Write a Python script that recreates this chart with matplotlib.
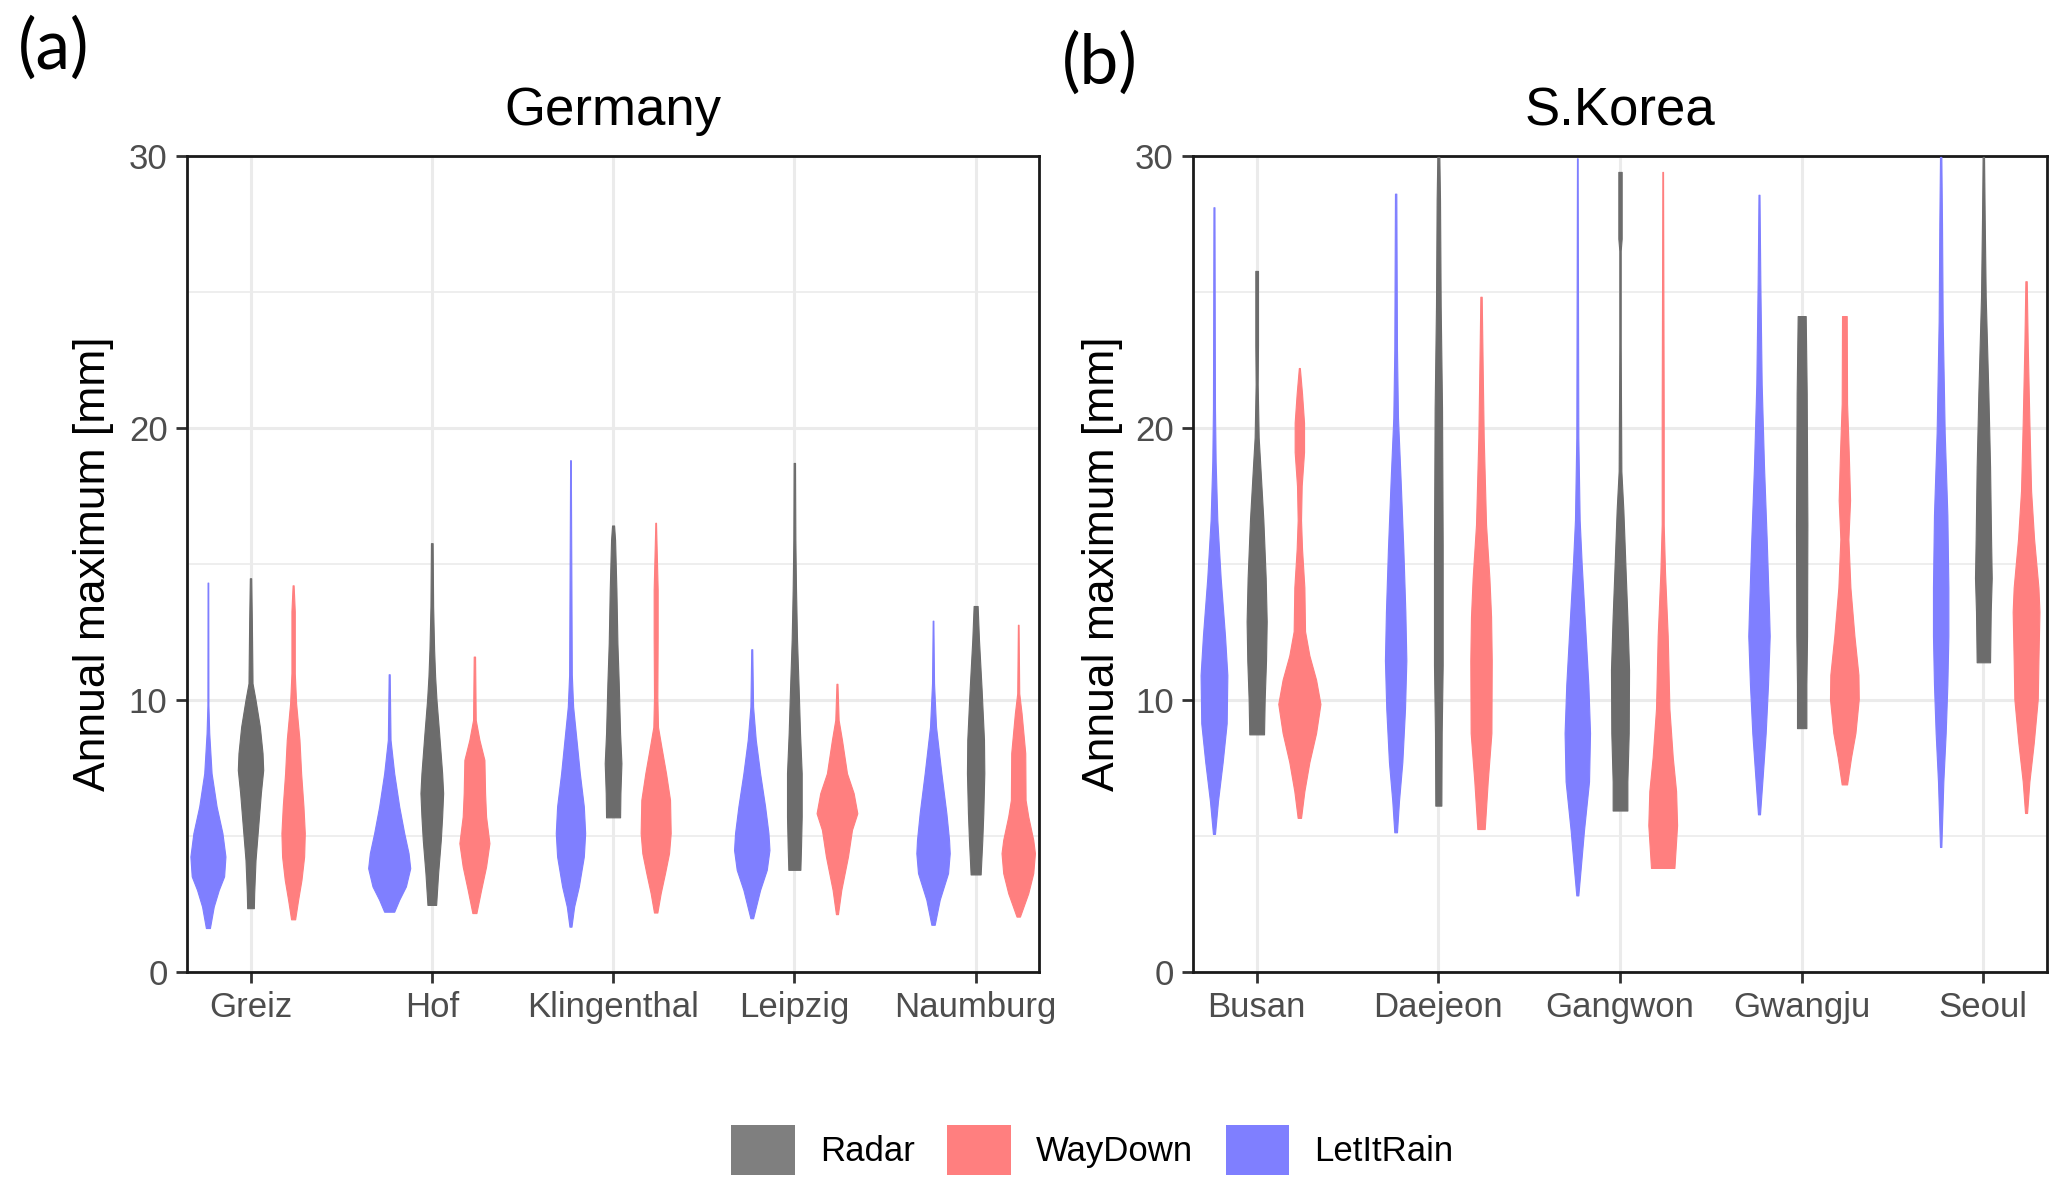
import numpy as np
import matplotlib
matplotlib.use("Agg")
import matplotlib.pyplot as plt
from matplotlib.patches import Patch

plt.rcParams['font.family'] = ['Liberation Sans', 'DejaVu Sans']

# stations per panel
ger_stations = ["Greiz", "Hof", "Klingenthal", "Leipzig", "Naumburg"]
kor_stations = ["Busan", "Daejeon", "Gangwon", "Gwangju", "Seoul"]

# violin profiles: annual maximum [mm] levels and relative density (width) at each level
# --- Germany ---
ger_rain_y = [[1.6, 2.39, 3.0, 3.5, 4.23, 5.09, 6.07, 7.29, 8.76, 9.8, 14.3],
              [2.2, 2.64, 3.13, 3.8, 4.35, 5.09, 6.07, 7.29, 8.52, 10.93],
              [1.65, 2.39, 3.13, 4.23, 5.09, 6.07, 7.29, 8.52, 9.74, 10.91, 18.8],
              [1.96, 3.0, 3.74, 4.47, 5.09, 6.07, 7.29, 8.52, 9.74, 11.85],
              [1.72, 2.64, 3.62, 4.35, 4.84, 5.82, 7.29, 9.0, 10.6, 12.9]]
ger_rain_d = [[12, 35, 65, 97, 105, 87, 52, 22, 8, 3, 2],
              [30, 60, 100, 126, 116, 90, 60, 30, 8, 3],
              [6, 22, 50, 80, 88, 80, 56, 36, 16, 8, 2],
              [8, 50, 90, 106, 100, 80, 50, 24, 8, 3],
              [10, 40, 90, 100, 96, 80, 50, 18, 6, 2]]

ger_radar_y = [[2.33, 2.88, 4.1, 5.33, 6.56, 7.41, 8.03, 9.0, 9.99, 10.6, 12.87, 14.46],
               [2.45, 3.62, 4.84, 5.7, 6.56, 7.29, 8.76, 10.0, 10.85, 11.83, 13.42, 15.75],
               [5.67, 6.56, 7.66, 8.76, 10.6, 12.07, 14.03, 15.87, 16.4],
               [3.74, 4.6, 5.7, 7.29, 8.76, 10.36, 12.2, 14.03, 15.87, 18.7],
               [3.57, 4.84, 5.82, 7.29, 8.52, 10.36, 12.2, 13.44]]
ger_radar_d = [[20, 22, 30, 46, 62, 76, 72, 56, 30, 12, 8, 4],
               [26, 38, 54, 62, 68, 62, 44, 28, 20, 14, 8, 5],
               [42, 44, 50, 42, 34, 26, 20, 12, 6],
               [36, 40, 44, 44, 34, 26, 16, 10, 6, 4],
               [30, 40, 46, 52, 50, 36, 20, 12]]

ger_down_y = [[1.92, 2.64, 3.37, 4.23, 5.09, 6.07, 7.29, 8.52, 9.86, 10.97, 13.24, 14.2],
              [2.15, 3.0, 3.86, 4.72, 5.7, 6.56, 7.78, 8.52, 9.25, 11.58],
              [2.17, 2.88, 3.62, 4.35, 5.09, 6.31, 7.29, 8.27, 8.99, 10.1, 12.32, 14.03, 16.5],
              [2.11, 3.0, 4.23, 5.21, 5.82, 6.56, 7.29, 8.52, 9.25, 10.58],
              [2.02, 2.88, 3.62, 4.35, 4.84, 5.7, 6.31, 8.03, 9.5, 10.23, 12.75]]
ger_down_d = [[12, 30, 50, 66, 70, 62, 48, 38, 18, 10, 10, 3],
              [12, 40, 70, 90, 70, 64, 60, 30, 8, 4],
              [10, 30, 56, 80, 90, 86, 62, 34, 14, 10, 12, 12, 2],
              [6, 26, 66, 90, 122, 100, 60, 30, 10, 3],
              [10, 60, 90, 100, 90, 60, 44, 42, 20, 6, 2]]

# --- S.Korea ---
kor_rain_y = [[5.06, 6.27, 7.7, 9.13, 10.9, 12.34, 14.47, 16.6, 18.75, 20.71, 28.1],
              [5.12, 6.27, 7.7, 9.66, 11.44, 13.23, 15.54, 18.04, 20.36, 22.85, 28.6],
              [2.8, 3.78, 5.2, 6.99, 8.77, 10.55, 12.34, 15.0, 16.6, 19.64, 29.9],
              [5.78, 6.99, 8.77, 10.55, 12.34, 13.23, 15.9, 18.57, 21.6, 25.35, 28.56],
              [4.58, 6.99, 8.77, 10.55, 12.34, 14.12, 16.79, 19.82, 23.92, 27.49, 29.95]]
kor_rain_d = [[6, 24, 52, 76, 80, 66, 40, 20, 10, 6, 3],
              [8, 20, 40, 56, 64, 58, 46, 30, 14, 8, 4],
              [6, 20, 40, 70, 76, 66, 50, 26, 14, 6, 2],
              [6, 20, 40, 54, 64, 60, 46, 30, 16, 8, 3],
              [4, 16, 30, 40, 46, 46, 40, 24, 12, 8, 4]]

kor_radar_y = [[8.72, 10.02, 11.44, 12.87, 14.47, 16.6, 18.57, 19.64, 21.6, 23.03, 25.76],
               [6.1, 8.77, 11.27, 15.65, 20.71, 24.46, 28.38, 29.95],
               [5.92, 6.99, 8.77, 11.09, 13.05, 14.65, 16.97, 18.4, 23.03, 26.5, 26.95, 29.4],
               [8.95, 10.55, 12.34, 16.43, 21.25, 24.1],
               [11.37, 13.23, 14.47, 15.9, 18.57, 21.25, 24.81, 27.67, 29.95]]
kor_radar_d = [[44, 48, 56, 60, 54, 40, 22, 12, 6, 8, 8],
               [18, 20, 26, 26, 22, 14, 10, 6],
               [44, 44, 52, 54, 44, 34, 20, 8, 4, 4, 10, 10],
               [28, 28, 32, 34, 30, 24],
               [40, 44, 50, 46, 40, 30, 14, 8, 4]]

kor_down_y = [[5.65, 6.63, 7.7, 8.77, 9.84, 10.73, 11.62, 12.51, 14.12, 15.54, 16.6, 17.86, 19.1, 20.18, 21.25, 22.19],
              [5.24, 6.99, 8.77, 11.44, 13.05, 14.47, 16.43, 19.64, 22.14, 24.81],
              [3.81, 5.38, 6.63, 7.88, 9.66, 12.34, 14.65, 16.43, 20.53, 29.4],
              [6.88, 7.88, 8.77, 10.02, 10.91, 12.34, 14.12, 15.9, 17.33, 19.1, 20.89, 24.1],
              [5.83, 6.99, 8.41, 10.02, 11.44, 13.23, 14.12, 15.9, 17.68, 20.18, 23.03, 25.38]]
kor_down_d = [[10, 30, 60, 100, 126, 100, 60, 34, 30, 16, 10, 14, 28, 28, 16, 3],
              [22, 40, 62, 64, 60, 50, 30, 16, 10, 4],
              [70, 86, 80, 60, 40, 30, 14, 6, 6, 2],
              [16, 40, 66, 86, 84, 60, 36, 24, 34, 26, 16, 14],
              [6, 20, 46, 70, 74, 80, 74, 48, 30, 20, 10, 4]]

WIDTH_SCALE = 1 / 543.0   # relative density -> category units
DODGE = 0.235
BLUE = '#7F7FFF'
RED = '#FF7F7F'
GRAY = '#6c6c6c'
TICK_COL = '#4D4D4D'


def draw_panel(ax, stations, rain, radar, down, title, ylab_x):
    series = [(rain, -DODGE, BLUE), (radar, 0.0, GRAY), (down, DODGE, RED)]
    for i in range(len(stations)):
        pos = i + 1
        for (ys, ds), off, col in series:
            y = np.array(ys[i])
            w = np.array(ds[i]) * WIDTH_SCALE
            ax.fill_betweenx(y, pos + off - w / 2, pos + off + w / 2,
                             facecolor=col, edgecolor=col, lw=0.8, zorder=3)
    ax.set_xlim(0.65, len(stations) + 0.35)
    ax.set_ylim(0, 30)
    ax.set_xticks(range(1, len(stations) + 1))
    ax.set_xticklabels(stations)
    ax.set_yticks([0, 10, 20, 30])
    ax.set_yticks([5, 15, 25], minor=True)
    ax.grid(which='major', color='#EBEBEB', lw=2.2)
    ax.grid(which='minor', axis='y', color='#EBEBEB', lw=1.2)
    ax.set_axisbelow(True)
    ax.tick_params(which='major', length=8, width=2, color='#333333',
                   labelsize=25, labelcolor=TICK_COL, pad=6)
    ax.tick_params(which='minor', length=0)
    for s in ax.spines.values():
        s.set_linewidth(2)
        s.set_color('#1a1a1a')
    ax.set_ylabel("Annual maximum [mm]", fontsize=32, color='black')
    ax.yaxis.set_label_coords(ylab_x, 0.5)
    ax.set_title(title, fontsize=38, pad=22)


fig = plt.figure(figsize=(20.67, 11.94), dpi=100)
ax1 = fig.add_axes([0.0905, 0.1863, 0.4122, 0.6834])
ax2 = fig.add_axes([0.5772, 0.1863, 0.4131, 0.6834])

draw_panel(ax1, ger_stations, (ger_rain_y, ger_rain_d), (ger_radar_y, ger_radar_d),
           (ger_down_y, ger_down_d), "Germany", -0.0857)
draw_panel(ax2, kor_stations, (kor_rain_y, kor_rain_d), (kor_radar_y, kor_radar_d),
           (kor_down_y, kor_down_d), "S.Korea", -0.082)

fig.text(0.026, 0.959, "(a)", fontsize=50, family='Lato', ha='center', va='center')
fig.text(0.532, 0.947, "(b)", fontsize=50, family='Lato', ha='center', va='center')

handles = [Patch(facecolor='#7F7F7F', lw=0), Patch(facecolor=RED, lw=0), Patch(facecolor=BLUE, lw=0)]
fig.legend(handles, ["Radar", "WayDown", "LetItRain"], loc='center',
           bbox_to_anchor=(0.5285, 0.037), ncol=3, frameon=False, fontsize=25,
           handlelength=1.82, handleheight=1.84, handletextpad=0.73, columnspacing=0.94)

fig.savefig("out.png", dpi=100)
